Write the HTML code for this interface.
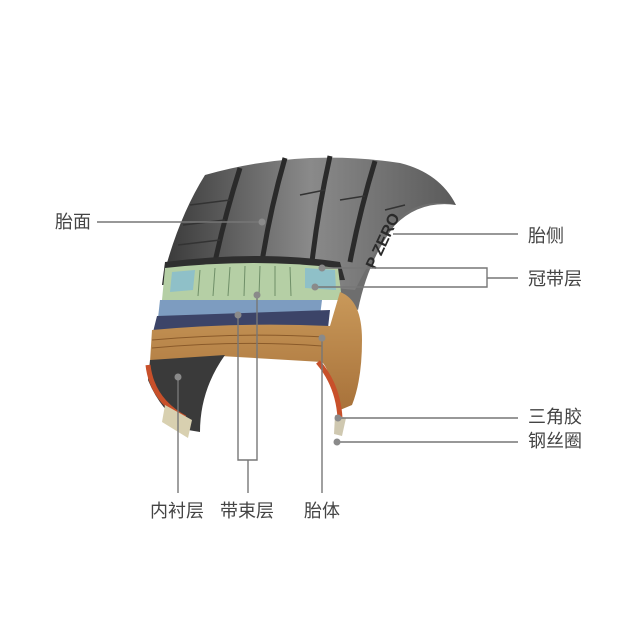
<!DOCTYPE html>
<html><head><meta charset="utf-8"><style>
html,body{margin:0;padding:0;background:#fff;}
body{width:640px;height:640px;overflow:hidden;position:relative;font-family:"Liberation Sans","Noto Sans CJK SC",sans-serif;}
.t{position:absolute;font-size:18px;color:#444;line-height:20px;white-space:nowrap;}
</style></head><body>
<svg width="640" height="640" style="position:absolute;left:0;top:0">
<defs>
<linearGradient id="tr" x1="0" y1="0" x2="1" y2="0">
<stop offset="0" stop-color="#3a3a3a"/><stop offset="0.5" stop-color="#8a8a8a"/><stop offset="1" stop-color="#5a5a5a"/>
</linearGradient>
<linearGradient id="tan" x1="0" y1="0" x2="0" y2="1">
<stop offset="0" stop-color="#c9995a"/><stop offset="1" stop-color="#a8723a"/>
</linearGradient>
</defs>
<path d="M330,200 Q420,170 456,205 Q420,200 395,225 Q368,260 358,310 L340,300 Z" fill="#6e6e6e"/>
<path d="M205,175 Q300,148 400,163 Q440,173 456,205 Q410,195 385,235 Q365,270 355,290 L165,270 Q180,215 205,175 Z" fill="url(#tr)"/>
<g stroke="#2a2a2a" stroke-width="5" fill="none">
<path d="M240,168 Q225,215 215,262"/><path d="M285,158 Q270,210 262,262"/><path d="M330,156 Q318,210 312,262"/><path d="M375,161 Q360,210 350,262"/>
</g>
<g stroke="#333" stroke-width="1.5">
<line x1="190" y1="205" x2="230" y2="200"/><line x1="183" y1="225" x2="225" y2="220"/><line x1="178" y1="245" x2="220" y2="240"/>
<line x1="300" y1="195" x2="325" y2="190"/><line x1="340" y1="200" x2="365" y2="196"/><line x1="385" y1="210" x2="405" y2="205"/>
</g>
<text x="375" y="270" transform="rotate(-65 375 270)" font-size="16" font-weight="bold" fill="#2a2a2a" font-family="Liberation Sans">P ZERO</text>
<path d="M165,262 Q260,250 340,262 L345,280 L162,285 Z" fill="#2e2e2e"/>
<path d="M165,268 Q255,258 338,268 L342,300 L325,300 L162,300 Z" fill="#b5cfa5"/>
<path d="M172,272 L195,270 L193,290 L170,292 Z M305,268 L335,270 L336,290 L305,288 Z" fill="#8fc0c8"/>
<g stroke="#6f8f68" stroke-width="1"><line x1="200" y1="270" x2="198" y2="296"/><line x1="215" y1="268" x2="213" y2="296"/><line x1="230" y1="267" x2="228" y2="296"/><line x1="245" y1="266" x2="244" y2="296"/><line x1="260" y1="266" x2="259" y2="296"/><line x1="275" y1="266" x2="275" y2="296"/><line x1="290" y1="267" x2="291" y2="296"/></g>
<path d="M160,300 L322,300 L320,316 L158,318 Z" fill="#7d9cc0"/>
<path d="M157,316 L330,310 L328,328 L153,332 Z" fill="#3c4468"/>
<path d="M152,330 Q240,322 330,326 L340,292 Q362,300 362,340 Q362,380 352,405 L340,410 Q330,370 322,362 L220,356 L150,362 Z" fill="url(#tan)"/>
<g stroke="#8a5a2a" stroke-width="1" fill="none"><path d="M152,340 Q240,332 325,337"/><path d="M152,348 Q240,340 322,346"/></g>
<path d="M150,360 L225,355 Q200,390 200,432 L188,430 Q160,410 148,380 Z" fill="#3a3a3a"/>
<path d="M148,365 Q152,400 185,418" stroke="#c8502a" stroke-width="5" fill="none"/>
<path d="M165,405 L192,420 L188,438 L162,422 Z" fill="#d8d0b0"/>
<path d="M318,362 Q338,385 340,418" stroke="#c8502a" stroke-width="5" fill="none"/>
<path d="M335,415 L346,418 L342,436 L334,434 Z" fill="#cfc8b0"/>
<g stroke="#777" stroke-width="1.4" fill="none">
<path d="M97,222 L262,222"/>
<path d="M393,234 L518,234"/>
<path d="M322,268 L487,268 L487,287 L315,287 M487,278 L518,278"/>
<path d="M338,418 L518,418"/>
<path d="M337,442 L518,442"/>
<path d="M178,377 L178,493"/>
<path d="M238,315 L238,460 L257,460 L257,295 M248,460 L248,493"/>
<path d="M322,338 L322,493"/>
</g>
<g fill="#8a8a8a"><circle cx="262" cy="222" r="3.5"/><circle cx="178" cy="377" r="3.5"/><circle cx="238" cy="315" r="3.5"/><circle cx="257" cy="295" r="3.5"/><circle cx="322" cy="338" r="3.5"/><circle cx="322" cy="268" r="3.5"/><circle cx="315" cy="287" r="3.5"/><circle cx="338" cy="418" r="3.5"/><circle cx="337" cy="442" r="3.5"/></g>
</svg>
<div class="t" style="left:55px;top:212px">胎面</div>
<div class="t" style="left:528px;top:226px">胎侧</div>
<div class="t" style="left:528px;top:269px">冠带层</div>
<div class="t" style="left:528px;top:407px">三角胶</div>
<div class="t" style="left:528px;top:431px">钢丝圈</div>
<div class="t" style="left:150px;top:501px">内衬层</div>
<div class="t" style="left:220px;top:501px">带束层</div>
<div class="t" style="left:304px;top:501px">胎体</div>
</body></html>
